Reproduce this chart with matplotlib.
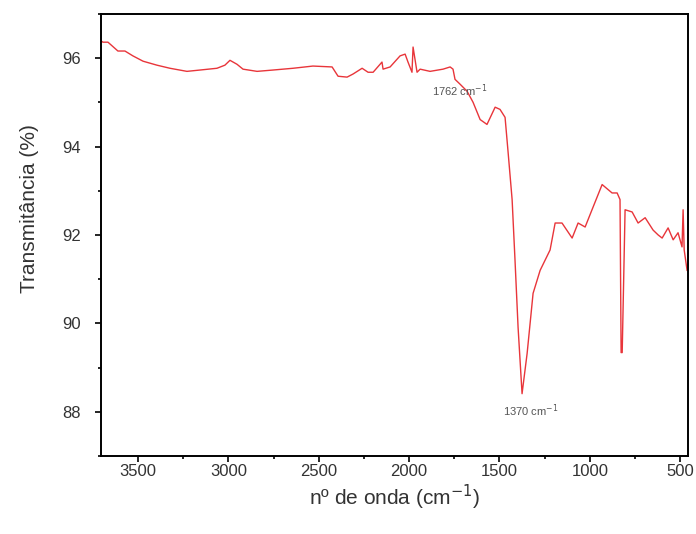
import matplotlib
matplotlib.use("Agg")
import matplotlib.pyplot as plt
from matplotlib.ticker import MultipleLocator

# FTIR spectrum
wavenumber = [3705, 3694, 3666, 3611, 3572, 3528, 3472, 3395, 3323, 3229,
              3157, 3063, 3019, 2991, 2952, 2919, 2841, 2753, 2642, 2532,
              2426, 2393, 2343, 2310, 2260, 2227, 2199, 2150, 2144, 2105,
              2050, 2022, 2006, 1984, 1978, 1956, 1939, 1884, 1812, 1773,
              1757, 1746, 1718, 1679, 1646, 1607, 1569, 1524, 1497, 1469,
              1452, 1430, 1414, 1397, 1375, 1347, 1314, 1275, 1220, 1192,
              1154, 1098, 1065, 1026, 988, 932, 877, 849, 833, 827,
              821, 805, 766, 733, 694, 650, 622, 600, 567, 539,
              512, 490, 484, 478, 462]
transmit = [96.39, 96.36, 96.36, 96.16, 96.16, 96.05, 95.93, 95.84, 95.77, 95.70,
            95.73, 95.77, 95.84, 95.95, 95.86, 95.75, 95.70, 95.73, 95.77, 95.82,
            95.80, 95.59, 95.57, 95.64, 95.77, 95.68, 95.68, 95.91, 95.75, 95.80,
            96.05, 96.09, 95.91, 95.68, 96.25, 95.68, 95.75, 95.70, 95.75, 95.80,
            95.75, 95.52, 95.41, 95.25, 95.00, 94.61, 94.50, 94.89, 94.84, 94.66,
            93.86, 92.80, 91.43, 89.91, 88.41, 89.32, 90.68, 91.20, 91.66, 92.27,
            92.27, 91.93, 92.27, 92.18, 92.57, 93.14, 92.95, 92.95, 92.80, 89.34,
            89.34, 92.57, 92.52, 92.27, 92.39, 92.11, 92.00, 91.93, 92.16, 91.89,
            92.05, 91.73, 92.57, 91.66, 91.20]

# label text, centre position (wavenumber, %)
peak_labels = ["1762 cm$^{-1}$", "1370 cm$^{-1}$"]
peak_x = [1718, 1325]
peak_y = [95.27, 88.02]

plt.rcParams['font.family'] = ['Liberation Sans', 'DejaVu Sans']

fig = plt.figure(figsize=(6.96, 5.34), dpi=100)
ax = fig.add_axes([0.145, 0.146, 0.844, 0.828])
ax.plot(wavenumber, transmit, color='#e8353a', lw=1.0)

ax.set_xlim(3705, 455)
ax.set_ylim(87, 97)
ax.xaxis.set_major_locator(MultipleLocator(500))
ax.xaxis.set_minor_locator(MultipleLocator(250))
ax.yaxis.set_major_locator(MultipleLocator(2))
ax.yaxis.set_minor_locator(MultipleLocator(1))
ax.tick_params(which='both', direction='out', top=False, right=False,
               labelsize=12, labelcolor='#333333', width=1.2)
ax.tick_params(which='major', length=4.5)
ax.tick_params(which='minor', length=2.5)
ax.tick_params(axis='x', pad=1.5)
ax.tick_params(axis='y', pad=10)
for s in ax.spines.values():
    s.set_linewidth(1.4)

for lab, px, py in zip(peak_labels, peak_x, peak_y):
    ax.text(px, py, lab, fontsize=8, color='#555555', ha='center', va='center')

ax.set_xlabel("nº de onda (cm$^{-1}$)", fontsize=15, color='#333333')
ax.set_ylabel("Transmitância (%)", fontsize=15, color='#333333')
ax.xaxis.set_label_coords(0.5, -0.06)
ax.yaxis.set_label_coords(-0.105, 0.56)

fig.savefig("out.png", dpi=100)
